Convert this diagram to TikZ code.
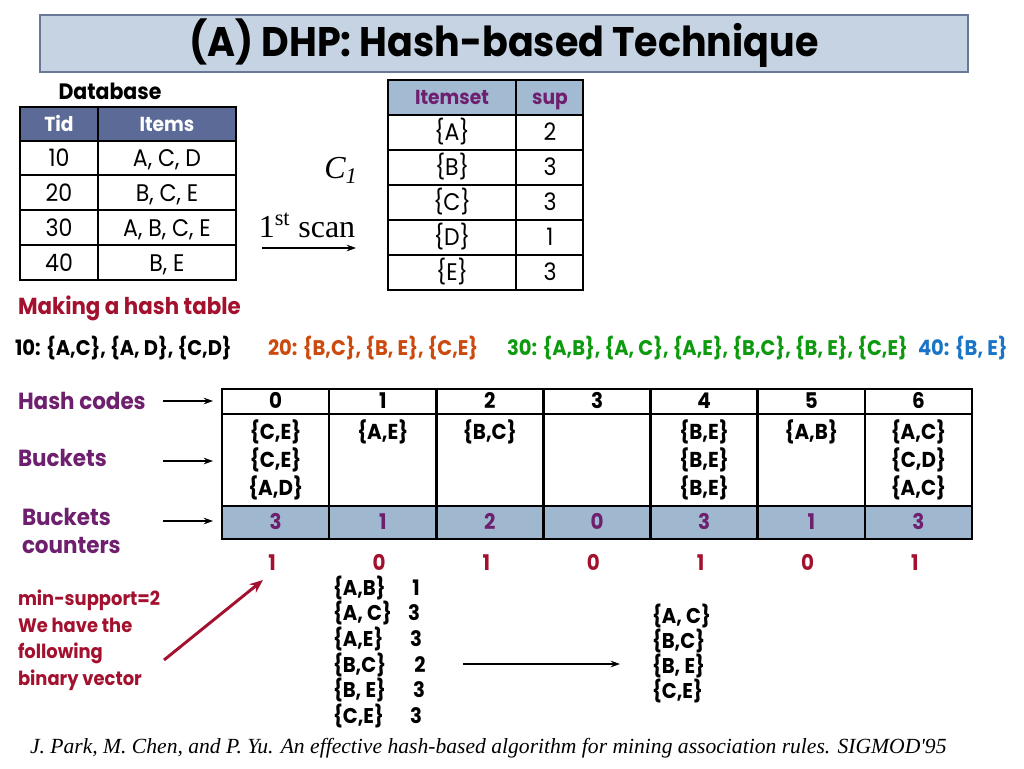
\documentclass[tikz,border=0pt]{standalone}
\usepackage{fontspec}
\setmainfont{Poppins}[FakeStretch=0.92]
\newfontfamily\tms{Liberation Serif}
\usetikzlibrary{arrows.meta}
\definecolor{titlefill}{HTML}{C6D3E3}
\definecolor{titleedge}{HTML}{6A7898}
\definecolor{dbhead}{HTML}{5C6A97}
\definecolor{cohead}{HTML}{A3BAD3}
\definecolor{cntfill}{HTML}{A0B8CF}
\definecolor{purp}{HTML}{6E1F6E}
\definecolor{dred}{HTML}{A3112E}
\definecolor{orng}{HTML}{CC4A0E}
\definecolor{grn}{HTML}{0E9A0E}
\definecolor{blu}{HTML}{1A75C8}
\tikzset{
  txt/.style={inner sep=0pt, outer sep=0pt},
  cell/.style={txt, text height=12.4pt, text depth=0pt, font=\fontsize{18}{20}\selectfont},
  hdr/.style={txt, text height=10.5pt, text depth=0pt, font=\fontsize{15.2}{18}\selectfont\bfseries},
  hcell/.style={txt, text height=11.2pt, text depth=0pt, font=\fontsize{16.2}{18}\selectfont\bfseries},
  lbl/.style={txt, anchor=west, text=purp, font=\fontsize{17.5}{20}\selectfont\bfseries, align=left},
  trans/.style={txt, anchor=west, font=\fontsize{15.9}{18}\selectfont\bfseries},
  lst/.style={txt, text height=11pt, text depth=0pt, font=\fontsize{16}{18}\selectfont\bfseries},
  grid/.style={line width=1.3pt},
  frame/.style={line width=2pt},
  arr/.style={-{Stealth[length=7pt,width=5pt]}, line width=0.8pt},
}
\begin{document}
\begin{tikzpicture}[x=0.75pt,y=-0.75pt]
\useasboundingbox (0,0) rectangle (1024,768);
\fill[white] (0,0) rectangle (1024,768);
% title
\node[txt, draw=titleedge, line width=1.5pt, fill=titlefill, minimum width=928*0.75pt, minimum height=57*0.75pt,
  font=\fontsize{31}{34}\selectfont\bfseries] (title) at (504,43.5) {(A) DHP: Hash-based Technique};

% Database table
\node[txt, font=\fontsize{16.7}{18}\selectfont\bfseries] (dbtitle) at (110,91) {Database};
\fill[dbhead] (20,107) rectangle (236,141);
\draw[grid] (98,107) -- (98,280);
\foreach \y in {141,175,210,245} \draw[grid] (20,\y) -- (236,\y);
\draw[frame] (20,107) rectangle (236,280);
\node[hdr, text=white] (dbh1) at (59,124) {Tid};
\node[hdr, text=white] (dbh2) at (167,124) {Items};
\foreach \t/\it [count=\i] in {10/{A, C, D},20/{B, C, E},30/{A, B, C, E},40/{B, E}} {
  \node[cell] (dbr\i a) at (59,123+35*\i) {\t};
  \node[cell] (dbr\i b) at (167,123+35*\i) {\it};
}

% C1 label and scan arrow
\node[txt, font=\fontsize{24}{26}\selectfont\tms\itshape] (c1) at (341,170) {C\textsubscript{1}};
\node[txt, font=\fontsize{24}{26}\selectfont\tms] (scan) at (307,225) {1\textsuperscript{st} scan};
\coordinate (scanA) at (262,248);
\coordinate (scanB) at (356,248);
\draw[arr] (scanA) -- (scanB);

% C1 table
\fill[cohead] (388,80) rectangle (583,115);
\draw[grid] (516,80) -- (516,290);
\foreach \y in {115,150,185,220,255} \draw[grid] (388,\y) -- (583,\y);
\draw[frame] (388,80) rectangle (583,290);
\node[hdr, text=purp] (c1h1) at (452,97.5) {Itemset};
\node[hdr, text=purp] (c1h2) at (550,97.5) {sup};
\foreach \s/\n [count=\i] in {A/2,B/3,C/3,D/1,E/3} {
  \node[cell] (c1r\i a) at (452,97+35*\i) {\{\s\}};
  \node[cell] (c1r\i b) at (550,97+35*\i) {\n};
}

% Making a hash table
\node[txt, anchor=west, text=dred, font=\fontsize{17.4}{20}\selectfont\bfseries] (mk) at (18,308) {Making a hash table};
\node[trans] (t10) at (15,348) {10: \{A,C\}, \{A, D\}, \{C,D\}};
\node[trans, text=orng] (t20) at (268,348) {20: \{B,C\}, \{B, E\}, \{C,E\}};
\node[trans, text=grn] (t30) at (507,348) {30: \{A,B\}, \{A, C\}, \{A,E\}, \{B,C\}, \{B, E\}, \{C,E\}};
\node[trans, text=blu] (t40) at (918,348) {40: \{B, E\}};

% Hash table
\fill[cntfill] (222,506) rectangle (972,539);
\foreach \i in {1,...,6} \draw[frame] ({222+107.14*\i},389) -- ({222+107.14*\i},539);
\draw[frame] (222,414) -- (972,414);
\draw[frame] (222,506) -- (972,506);
\draw[frame] (222,389) rectangle (972,539);
\foreach \c [count=\i from 0] in {0,...,6} {
  \node[hcell] (hc\i) at ({275.6+107.14*\i},401.5) {\c};
}
\foreach \col/\a/\b/\cc in {0/{C,E}/{C,E}/{A,D},4/{B,E}/{B,E}/{B,E},6/{A,C}/{C,D}/{A,C}} {
  \node[hcell] (bk\col a) at ({275.6+107.14*\col},432) {\{\a\}};
  \node[hcell] (bk\col b) at ({275.6+107.14*\col},460) {\{\b\}};
  \node[hcell] (bk\col c) at ({275.6+107.14*\col},488) {\{\cc\}};
}
\foreach \col/\a in {1/{A,E},2/{B,C},5/{A,B}} {
  \node[hcell] (bk\col a) at ({275.6+107.14*\col},432) {\{\a\}};
}
\foreach \n [count=\i from 0] in {3,1,2,0,3,1,3} {
  \node[hcell, text=purp] (cnt\i) at ({275.6+107.14*\i},522) {\n};
}
\foreach \n [count=\i from 0] in {1,0,1,0,1,0,1} {
  \node[hcell, text=dred] (bv\i) at ({272+107.14*\i},563) {\n};
}

% left labels
\node[lbl] (lhc) at (18,401) {Hash codes};
\node[lbl] (lbk) at (18,458) {Buckets};
\node[lbl, font=\fontsize{17.5}{21}\selectfont\bfseries] (lcn) at (22,531) {Buckets\\counters};
\coordinate (a1s) at (163,401); \coordinate (a1e) at (213,401);
\coordinate (a2s) at (163,461); \coordinate (a2e) at (213,461);
\coordinate (a3s) at (163,521); \coordinate (a3e) at (213,521);
\draw[arr] (a1s) -- (a1e);
\draw[arr] (a2s) -- (a2e);
\draw[arr] (a3s) -- (a3e);

% min-support note
\node[txt, anchor=north west, text=dred, align=left, font=\fontsize{14.6}{20}\selectfont\bfseries] (ms) at (18,590) {min-support=2\\We have the\\following\\binary vector};
\coordinate (msA) at (164,660);
\coordinate (msB) at (263,580);
\draw[dred, line width=2.2pt, -{Stealth[length=10pt,width=8pt]}] (msA) -- (msB);

% candidate list
\foreach \s/\n/\x [count=\i from 0] in {{A,B}/1/416,{A, C}/3/414,{A,E}/3/416,{B,C}/2/420,{B, E}/3/419,{C,E}/3/416} {
  \node[lst, anchor=west] (cl\i) at (333,{588+25.6*\i}) {\{\s\}};
  \node[lst] (cn\i) at (\x,{588+25.6*\i}) {\n};
}
\coordinate (lA) at (463,664);
\coordinate (lB) at (620,664);
\draw[arr, line width=1.2pt] (lA) -- (lB);
\foreach \s [count=\i from 0] in {{A, C},{B,C},{B, E},{C,E}} {
  \node[lst, anchor=west] (rl\i) at (652,{616+25*\i}) {\{\s\}};
}

% footnote
\node[txt, anchor=west, font=\fontsize{16.2}{18}\selectfont\tms\itshape] (foot) at (30,748) {J. Park, M. Chen, and P. Yu. An effective hash-based algorithm for mining association rules. SIGMOD'95};
\end{tikzpicture}
\end{document}
